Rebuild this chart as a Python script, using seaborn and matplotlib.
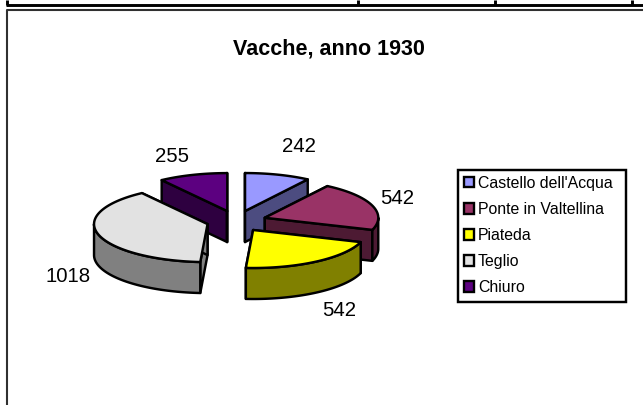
import numpy as np
import seaborn as sns
import matplotlib.pyplot as plt
from matplotlib.patches import Patch, Rectangle

comuni = ["Castello dell'Acqua", "Ponte in Valtellina", "Piateda", "Teglio", "Chiuro"]
vacche = [242, 542, 542, 1018, 255]
colori = ["#9999FF", "#993366", "#FFFF00", "#E2E2E2", "#5C0080"]
laterali = ["#4C4C80", "#4D1A33", "#808000", "#808080", "#2E0040"]
pos_etichette = [(299, 147), (397, 198), (339, 311), (68, 276), (172, 157)]

# geometria della torta, in pixel
cx, cy = 236.4, 221.2
rx, ry = 113.5, 38
ex, ey = 30, 10.6
spessore = 31
lw = 1.75


def punto(a, px, py, dy=0):
    return px + rx * np.sin(a), py - ry * np.cos(a) + dy


def fetta(ax, a0, a1, col, lat):
    mid = (a0 + a1) / 2
    px = cx + ex * np.sin(mid)
    py = cy - ey * np.cos(mid)
    # facce di taglio
    for a in [a0, a1]:
        x, y = punto(a, px, py)
        ax.fill([px, x, x, px], [py, y, y + spessore, py + spessore],
                facecolor=lat, edgecolor="black", lw=lw, joinstyle="round")
    # parete esterna, solo la parte davanti
    b0, b1 = max(a0, np.pi / 2), min(a1, 3 * np.pi / 2)
    if b1 > b0:
        t = np.linspace(b0, b1, 80)
        x, y = punto(t, px, py)
        ax.fill(np.r_[x, x[::-1]], np.r_[y, y[::-1] + spessore],
                facecolor=lat, edgecolor="black", lw=lw, joinstyle="round")
    # faccia superiore
    t = np.linspace(a0, a1, 120)
    x, y = punto(t, px, py)
    ax.fill(np.r_[px, x], np.r_[py, y], facecolor=col, edgecolor="black",
            lw=lw, joinstyle="round")


sns.set_style("white")
plt.rcParams["font.family"] = ["Liberation Sans", "DejaVu Sans"]

fig = plt.figure(figsize=(6.43, 4.05), dpi=100)
ax = fig.add_axes([0, 0, 1, 1])
ax.set_xlim(0, 643)
ax.set_ylim(405, 0)
ax.axis("off")

# resti della tabella sopra e cornice del grafico
ax.plot([6, 643], [4.7, 4.7], color="black", lw=2.1, solid_capstyle="butt")
for x in [7, 358, 495, 632]:
    ax.plot([x, x], [0, 4.7], color="black", lw=2.1, solid_capstyle="butt")
ax.plot([6.5, 6.5, 643], [405, 10, 10], color="#303030", lw=1.5)

angoli = np.r_[0, np.cumsum(vacche)] / np.sum(vacche) * 2 * np.pi
medi = (angoli[:-1] + angoli[1:]) / 2
# dal fondo verso il davanti
for i in np.argsort(-np.cos(medi), kind="stable"):
    fetta(ax, angoli[i], angoli[i + 1], colori[i], laterali[i])

for v, (x, y) in zip(vacche, pos_etichette):
    ax.text(x, y, str(v), ha="center", va="center", fontsize=14.7, color="black")

ax.text(329, 49, "Vacche, anno 1930", ha="center", va="center", fontsize=15.5,
        fontweight="bold", color="black")

ax.add_patch(Rectangle((457.5, 169.5), 168.5, 132.5, facecolor="white",
                       edgecolor="black", lw=1.75, zorder=3))
handles = [Patch(facecolor=c, edgecolor="black", lw=1.7) for c in colori]
leg = ax.legend(handles, comuni, loc="upper left", bbox_to_anchor=(457.5, 169.5),
                bbox_transform=ax.transData, borderaxespad=0, fontsize=11.4,
                handlelength=0.68, handleheight=0.68, handletextpad=0.22,
                labelspacing=0.71, borderpad=0.38, frameon=False,
                labelcolor="black")
leg.set_zorder(4)

fig.savefig("out.png", dpi=100)
